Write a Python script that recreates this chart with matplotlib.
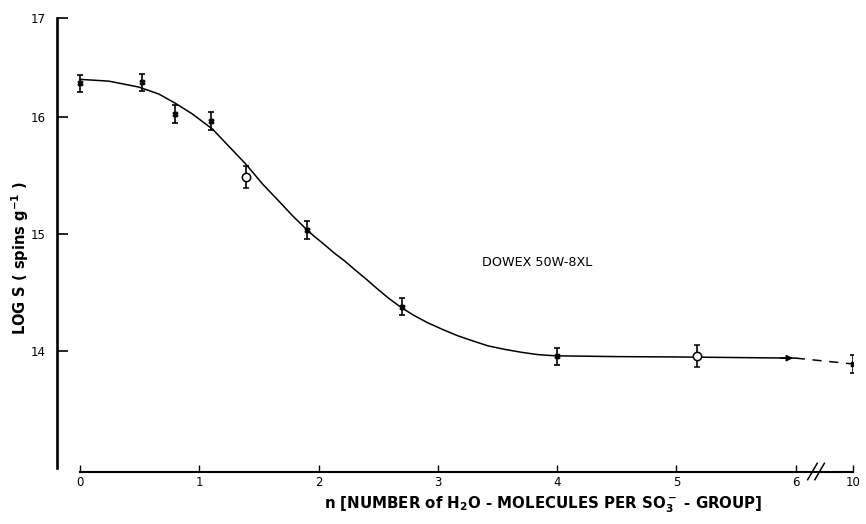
import numpy as np
import matplotlib
matplotlib.use("Agg")
import matplotlib.pyplot as plt

plt.rcParams['font.family'] = ['DejaVu Sans']
plt.rcParams['mathtext.default'] = 'bf'

# measured points (n, log S, error)
n_pts = [0.0, 0.52, 0.80, 1.10, 1.90, 2.70, 4.00, 10.0]
logs_pts = [16.29, 16.30, 16.03, 15.97, 15.035, 14.38, 13.955, 13.89]
err_pts = [0.074, 0.072, 0.077, 0.075, 0.075, 0.075, 0.075, 0.075]

# open circles
n_open = [1.39, 5.17]
logs_open = [15.49, 13.96]
err_open = [0.095, 0.095]

# drawn curve
n_curve = [0.0, 0.24, 0.49, 0.66, 0.80, 0.94, 1.11, 1.25, 1.39, 1.53, 1.67,
           1.78, 1.89, 1.96, 2.05, 2.13, 2.22, 2.30, 2.40, 2.49, 2.59, 2.69,
           2.80, 2.91, 3.04, 3.17, 3.30, 3.42, 3.56, 3.70, 3.84, 3.98,
           4.50, 5.00, 5.50, 6.00]
logs_curve = [16.325, 16.31, 16.26, 16.20, 16.12, 16.03, 15.90, 15.75, 15.60,
              15.43, 15.28, 15.16, 15.05, 14.985, 14.91, 14.84, 14.77, 14.70,
              14.615, 14.535, 14.45, 14.375, 14.305, 14.245, 14.185, 14.13,
              14.085, 14.045, 14.015, 13.99, 13.97, 13.96,
              13.953, 13.95, 13.945, 13.94]
# dashed extrapolation to n = 10
n_dash = [6.0, 10.0]
logs_dash = [13.94, 13.89]

x_ticks = [0, 1, 2, 3, 4, 5, 6, 10]
y_ticks = [14, 15, 16]


def xb(v):
    # broken axis: linear up to 6, compressed between 6 and 10
    v = np.asarray(v, dtype=float)
    return np.where(v <= 6, v, 6 + (v - 6) * 0.12)


fig = plt.figure(figsize=(8.66, 5.24), dpi=100)
ax = fig.add_axes([57 / 866, 56 / 524, 796 / 866, 450 / 524])
ax.set_xlim(-0.193, float(xb(10)))
ax.set_ylim(13.0, 16.85)

# curve
ax.plot(xb(n_curve), logs_curve, color='black', lw=1.1)
ax.plot(xb(n_dash), logs_dash, color='black', lw=1.1, ls=(0, (6, 5)))
ax.annotate('', xy=(xb(6.0), 13.94), xytext=(xb(5.85), 13.94),
            arrowprops=dict(arrowstyle='-|>', color='black', lw=1.1,
                            mutation_scale=9))

# data
ax.errorbar(xb(n_pts), logs_pts, yerr=err_pts, fmt='X', color='black',
            ms=3.5, capsize=2.5, elinewidth=1.2, capthick=1.2)
ax.errorbar(xb(n_open), logs_open, yerr=err_open, fmt='o', color='black',
            mfc='white', mec='black', ms=6, mew=1.1, capsize=2.5,
            elinewidth=1.2, capthick=1.2)
ax.plot(xb(n_open), logs_open, '.', color='black', ms=1.5)

# axes styling
for s in ['top', 'right']:
    ax.spines[s].set_visible(False)
ax.spines['left'].set_linewidth(1.9)
ax.spines['left'].set_bounds(13.0, 16.85)
ax.spines['bottom'].set_linewidth(1.5)
ax.spines['bottom'].set_bounds(0, float(xb(10)))
ax.spines['bottom'].set_position(('outward', 3))

ax.set_xticks(xb(x_ticks))
ax.set_xticklabels([str(t) for t in x_ticks])
ax.set_yticks(y_ticks + [16.85])
ax.set_yticklabels([str(t) for t in y_ticks] + ['17'])
ax.tick_params(axis='y', direction='in', length=8, width=1.2, pad=8,
               labelsize=8.5)
ax.tick_params(axis='x', direction='in', length=5, width=1.0, pad=3,
               labelsize=8.5)

# axis break marks
for dx in (6.10, 6.16):
    ax.plot([dx, dx + 0.08], [12.90, 13.04], color='black', lw=1.1,
            clip_on=False)

ax.text(3.37, 14.76, 'DOWEX 50W-8XL', fontsize=9.2, ha='left', va='center')

fig.text(20 / 866, 1 - 258 / 524, r'LOG S ( spins g$^{-1}$ )', rotation=90,
         ha='center', va='center', fontsize=10.5, fontweight='bold')
fig.text(543 / 866, 1 - 505 / 524,
         r'n [NUMBER of H$_2$O - MOLECULES PER SO$_3^-$ - GROUP]',
         ha='center', va='center', fontsize=10.8, fontweight='bold')

fig.savefig('out.png', dpi=100)
